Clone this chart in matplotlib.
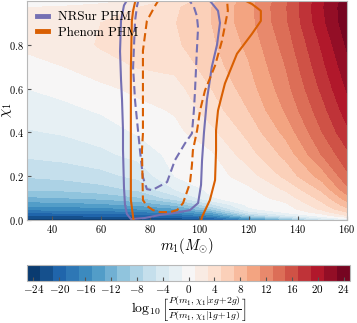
import numpy as np
import matplotlib
matplotlib.use('Agg')
import matplotlib.pyplot as plt
from matplotlib.lines import Line2D

plt.rcParams['font.family'] = 'cmr10'
plt.rcParams['mathtext.fontset'] = 'cm'
plt.rcParams['axes.formatter.use_mathtext'] = True

# log10 ratio surface (rows = chi_1, cols = m_1)
m1_grid = [30, 45, 60, 75, 90, 105, 120, 135, 150, 160]
chi_grid = [0, 0.01, 0.02, 0.035, 0.05, 0.07, 0.1, 0.14, 0.2, 0.3, 0.4, 0.5, 0.6, 0.7, 0.8, 0.9, 0.97, 1.0]
col_30 = [-24, -22.8, -20.7, -18.6, -16.4, -14.2, -11.4, -8.8, -6.8, -4.6, -3.2, -2.0, -1.0, 0.4, 1.4, 2.0, 1.0, -1.5]
col_45 = [-24, -22.8, -20.7, -18.5, -16.2, -14.0, -11.1, -8.5, -6.4, -4.2, -2.8, -1.5, -0.4, 1.0, 2.0, 2.3, 1.5, -1.0]
col_60 = [-24, -22.6, -20.5, -18.2, -15.8, -13.5, -10.5, -7.8, -5.7, -3.5, -2.0, -0.8, 0.5, 2.2, 3.2, 3.0, 2.3, 0.0]
col_75 = [-23.8, -22.2, -20.0, -17.6, -15.0, -12.5, -9.3, -6.6, -4.5, -2.3, -0.8, 0.3, 1.5, 3.1, 3.8, 3.6, 3.0, 1.5]
col_90 = [-23, -21.2, -19.0, -16.2, -13.5, -10.5, -6.0, -3.0, -1.0, -0.3, 0.4, 1.2, 2.2, 3.5, 4.6, 4.9, 4.6, 3.5]
col_105 = [-21.5, -19.0, -16.0, -12.5, -9.0, -5.5, -1.2, -0.4, 0.0, 0.7, 2.5, 4.0, 5.0, 6.0, 6.6, 7.0, 7.0, 6.5]
col_120 = [-17, -13, -8.5, -4.0, -1.3, -0.5, 0.0, 0.6, 2.0, 4.2, 5.6, 7.0, 8.0, 8.8, 9.5, 10.2, 10.3, 10.0]
col_135 = [-12, -7.5, -3.5, -0.8, 0.0, 0.6, 1.8, 3.3, 5.5, 7.6, 9.6, 11.2, 12.2, 13.0, 13.8, 14.6, 14.8, 14.6]
col_150 = [-6, -2.5, 0.0, 2.0, 3.5, 4.5, 5.8, 7.5, 10.0, 13.2, 15.0, 16.3, 17.5, 18.5, 19.4, 20.5, 20.8, 20.6]
col_160 = [-3, 0.5, 3.0, 5.0, 6.5, 8.0, 10.0, 12.5, 14.5, 16.5, 18.5, 20.0, 21.2, 22.3, 23.3, 24.2, 24.3, 24.0]

# 90% credible contours
nrsur_solid_m1 = [71.0, 69.4, 68.2, 67.8, 68.2, 68.6, 69.0, 69.0, 69.4, 69.8, 70.6, 72.2, 77.9, 84.0, 90.1, 96.2, 99.5, 100.7, 101.1, 101.9, 103.1, 105.1, 107.2, 108.4, 107.6, 105.1, 103.5]
nrsur_solid_chi = [1.01, 0.98, 0.91, 0.77, 0.64, 0.55, 0.41, 0.32, 0.15, 0.07, 0.027, 0.005, 0.009, 0.023, 0.032, 0.045, 0.077, 0.16, 0.27, 0.40, 0.55, 0.70, 0.80, 0.90, 0.955, 0.99, 1.01]
nrsur_dash_m1 = [75.5, 74.7, 73.9, 73.1, 73.9, 75.9, 77.1, 78.7, 80.8, 86.9, 90.1, 94.2, 97.0, 97.8, 98.2, 99.0, 99.5, 99.0, 97.8, 95.8, 94.2]
nrsur_dash_chi = [1.014, 0.977, 0.909, 0.695, 0.545, 0.318, 0.195, 0.141, 0.136, 0.173, 0.273, 0.35, 0.395, 0.5, 0.577, 0.773, 0.877, 0.932, 0.973, 1.005, 1.018]
phenom_solid_m1 = [74.3, 73.1, 72.6, 72.2, 72.2, 72.2, 73.1, 73.5, 100.3, 101.1, 104.3, 106.4, 106.8, 106.8, 107.6, 110.4, 115.3, 121.4, 125.0, 125.0, 121.4, 116.5]
phenom_solid_chi = [1.014, 0.955, 0.909, 0.695, 0.395, 0.091, 0.014, -0.023, -0.023, 0.014, 0.091, 0.182, 0.318, 0.409, 0.5, 0.623, 0.759, 0.85, 0.909, 0.955, 0.986, 1.014]
phenom_dash_m1 = [84.0, 82.0, 78.7, 77.1, 77.1, 76.7, 77.1, 78.7, 81.2, 84.0, 88.1, 91.0, 93.4, 96.2, 97.0, 97.4, 99.1, 100.3, 102.3, 106.4, 109.2, 110.4, 111.6, 111.2]
phenom_dash_chi = [1.014, 0.977, 0.909, 0.773, 0.395, 0.318, 0.091, 0.064, 0.045, 0.036, 0.036, 0.045, 0.077, 0.168, 0.25, 0.318, 0.409, 0.5, 0.591, 0.705, 0.818, 0.886, 0.955, 1.014]

purple = '#7570b3'
orange = '#d95f02'

log_ratio = np.array([col_30, col_45, col_60, col_75, col_90, col_105,
                      col_120, col_135, col_150, col_160]).T
levels = np.arange(-25, 26, 2)

fig = plt.figure(figsize=(3.57, 3.23), dpi=100)
ax = fig.add_axes([0.0756, 0.319, 0.8964, 0.678])
cax = fig.add_axes([0.0756, 0.13, 0.905, 0.05])

cf = ax.contourf(m1_grid, chi_grid, log_ratio, levels=levels, cmap='RdBu_r')

ax.plot(nrsur_solid_m1, nrsur_solid_chi, color=purple, lw=1.5)
ax.plot(nrsur_dash_m1, nrsur_dash_chi, color=purple, lw=1.5, ls=(0, (4, 2)))
ax.plot(phenom_solid_m1, phenom_solid_chi, color=orange, lw=1.5)
ax.plot(phenom_dash_m1, phenom_dash_chi, color=orange, lw=1.5, ls=(0, (4, 2)))

ax.set_xlim(30, 160)
ax.set_ylim(0, 1)
ax.set_yticks([0.0, 0.2, 0.4, 0.6, 0.8])
ax.set_xticks([40, 60, 80, 100, 120, 140, 160])
ax.tick_params(labelsize=7.5, length=3, pad=2, direction='in', color='#555555')
for s in ax.spines.values():
    s.set_color('#b8b8b8')
ax.set_xlabel(r'$m_1 (M_{\odot})$', fontsize=10.5, labelpad=1)
ax.set_ylabel(r'$\chi_1$', fontsize=10.5)
ax.yaxis.set_label_coords(-0.042, 0.5)

handles = [Line2D([], [], color=purple, lw=3.5), Line2D([], [], color=orange, lw=3.5)]
ax.legend(handles, ['NRSur PHM', 'Phenom PHM'], loc='upper left', frameon=False,
          fontsize=9.3, handlelength=0.8, borderaxespad=0.4, labelspacing=0.25)

cb = fig.colorbar(cf, cax=cax, orientation='horizontal', ticks=np.arange(-24, 25, 4))
cb.outline.set_edgecolor('#b8b8b8')
cb.ax.tick_params(labelsize=8, direction='in', length=3, pad=1.5, color='#555555')
cb.set_label(r'$\log_{10}\left[\frac{P(m_1,\chi_1|xg\!+\!2g)}{P(m_1,\chi_1|1g\!+\!1g)}\right]$',
             fontsize=10, labelpad=0)

fig.savefig('out.png', dpi=100)
